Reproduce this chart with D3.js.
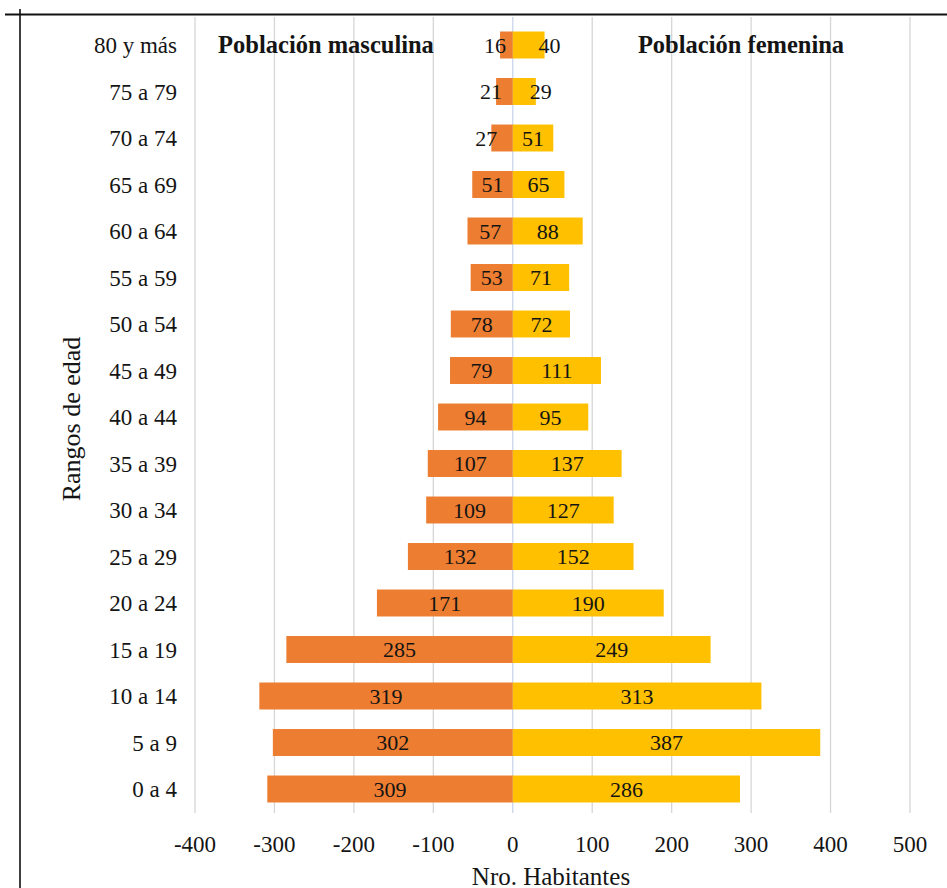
<!DOCTYPE html>
<html><head><meta charset="utf-8">
<script src="https://cdn.jsdelivr.net/npm/d3@7"></script>
<style>body{margin:0;background:#fff}svg{display:block}</style>
</head><body>
<script>
const categories = ["80 y más","75 a 79","70 a 74","65 a 69","60 a 64","55 a 59","50 a 54","45 a 49","40 a 44","35 a 39","30 a 34","25 a 29","20 a 24","15 a 19","10 a 14","5 a 9","0 a 4"];
const male   = [16,21,27,51,57,53,78,79,94,107,109,132,171,285,319,302,309];
const female = [40,29,51,65,88,71,72,111,95,137,127,152,190,249,313,387,286];
const xTicks = [-400,-300,-200,-100,0,100,200,300,400,500];
const maleTitle = "Población masculina";
const femaleTitle = "Población femenina";
const xTitle = "Nro. Habitantes";
const yTitle = "Rangos de edad";

const W = 947, H = 888;
const FONT = "Liberation Serif";
const INK = "#141414";
const svg = d3.select("body").append("svg").attr("width", W).attr("height", H);
svg.append("rect").attr("width", W).attr("height", H).attr("fill", "#fff");

const x = d3.scaleLinear().domain([-400, 500]).range([195, 910]);
const y = d3.scaleBand().domain(categories).range([21.75, 812.25]).paddingInner(0.42).paddingOuter(0.21);

// gridlines
svg.append("g").selectAll("line").data(xTicks).join("line")
  .attr("x1", d => x(d)).attr("x2", d => x(d))
  .attr("y1", 17).attr("y2", 813)
  .attr("stroke", d => d === 0 ? "#c9d5ea" : "#d6d6d6").attr("stroke-width", 1.3);

// bars
const g = svg.append("g");
g.selectAll("rect.m").data(categories).join("rect").attr("class","m")
  .attr("x", (d,i) => x(-male[i])).attr("width", (d,i) => x(0) - x(-male[i]))
  .attr("y", d => y(d)).attr("height", y.bandwidth()).attr("fill", "#ED7D31");
g.selectAll("rect.f").data(categories).join("rect").attr("class","f")
  .attr("x", x(0)).attr("width", (d,i) => x(female[i]) - x(0))
  .attr("y", d => y(d)).attr("height", y.bandwidth()).attr("fill", "#FFC000");

// data labels: centred in the bar, pushed past the bar end when the bar is short
function addLabels(vals, sign, cls) {
  const t = g.selectAll("text." + cls).data(categories).join("text").attr("class", cls)
    .attr("y", d => y(d) + y.bandwidth()/2).attr("dy", "0.36em")
    .attr("text-anchor", "middle").attr("font-family", FONT).attr("font-size", 22)
    .attr("fill", INK).text((d,i) => vals[i]);
  t.each(function(d,i){
    const w = this.getComputedTextLength();
    const end = x(sign*vals[i]);
    const len = Math.abs(end - x(0));
    const cx = len < 1.5*w ? end + sign*(w/2 - 6) : (end + x(0)) / 2;
    d3.select(this).attr("x", cx);
  });
}
addLabels(male, -1, "ml");
addLabels(female, 1, "fl");

// category labels
svg.append("g").selectAll("text").data(categories).join("text")
  .attr("x", 177).attr("y", d => y(d) + y.bandwidth()/2).attr("dy", "0.36em")
  .attr("text-anchor", "end").attr("font-family", FONT).attr("font-size", 23)
  .attr("fill", INK).text(d => d);

// x tick labels
svg.append("g").selectAll("text").data(xTicks).join("text")
  .attr("x", d => x(d)).attr("y", 852).attr("text-anchor", "middle")
  .attr("font-family", FONT).attr("font-size", 23).attr("fill", INK).text(d => d);

// titles
svg.append("text").attr("x", 326).attr("y", 53).attr("text-anchor", "middle")
  .attr("font-family", FONT).attr("font-weight", "bold").attr("font-size", 24.5).attr("fill", INK).text(maleTitle);
svg.append("text").attr("x", 741).attr("y", 53).attr("text-anchor", "middle")
  .attr("font-family", FONT).attr("font-weight", "bold").attr("font-size", 24.5).attr("fill", INK).text(femaleTitle);
svg.append("text").attr("x", 551).attr("y", 885).attr("text-anchor", "middle")
  .attr("font-family", FONT).attr("font-size", 25).attr("fill", INK).text(xTitle);
svg.append("text").attr("transform", "translate(80,419) rotate(-90)").attr("text-anchor", "middle")
  .attr("font-family", FONT).attr("font-size", 26).attr("fill", INK).text(yTitle);

// frame lines
svg.append("line").attr("x1", 5).attr("x2", W).attr("y1", 14.5).attr("y2", 14.5).attr("stroke", "#111").attr("stroke-width", 2);
svg.append("line").attr("x1", 20).attr("x2", 20).attr("y1", 9).attr("y2", H).attr("stroke", "#111").attr("stroke-width", 1.6);
</script>
</body></html>
